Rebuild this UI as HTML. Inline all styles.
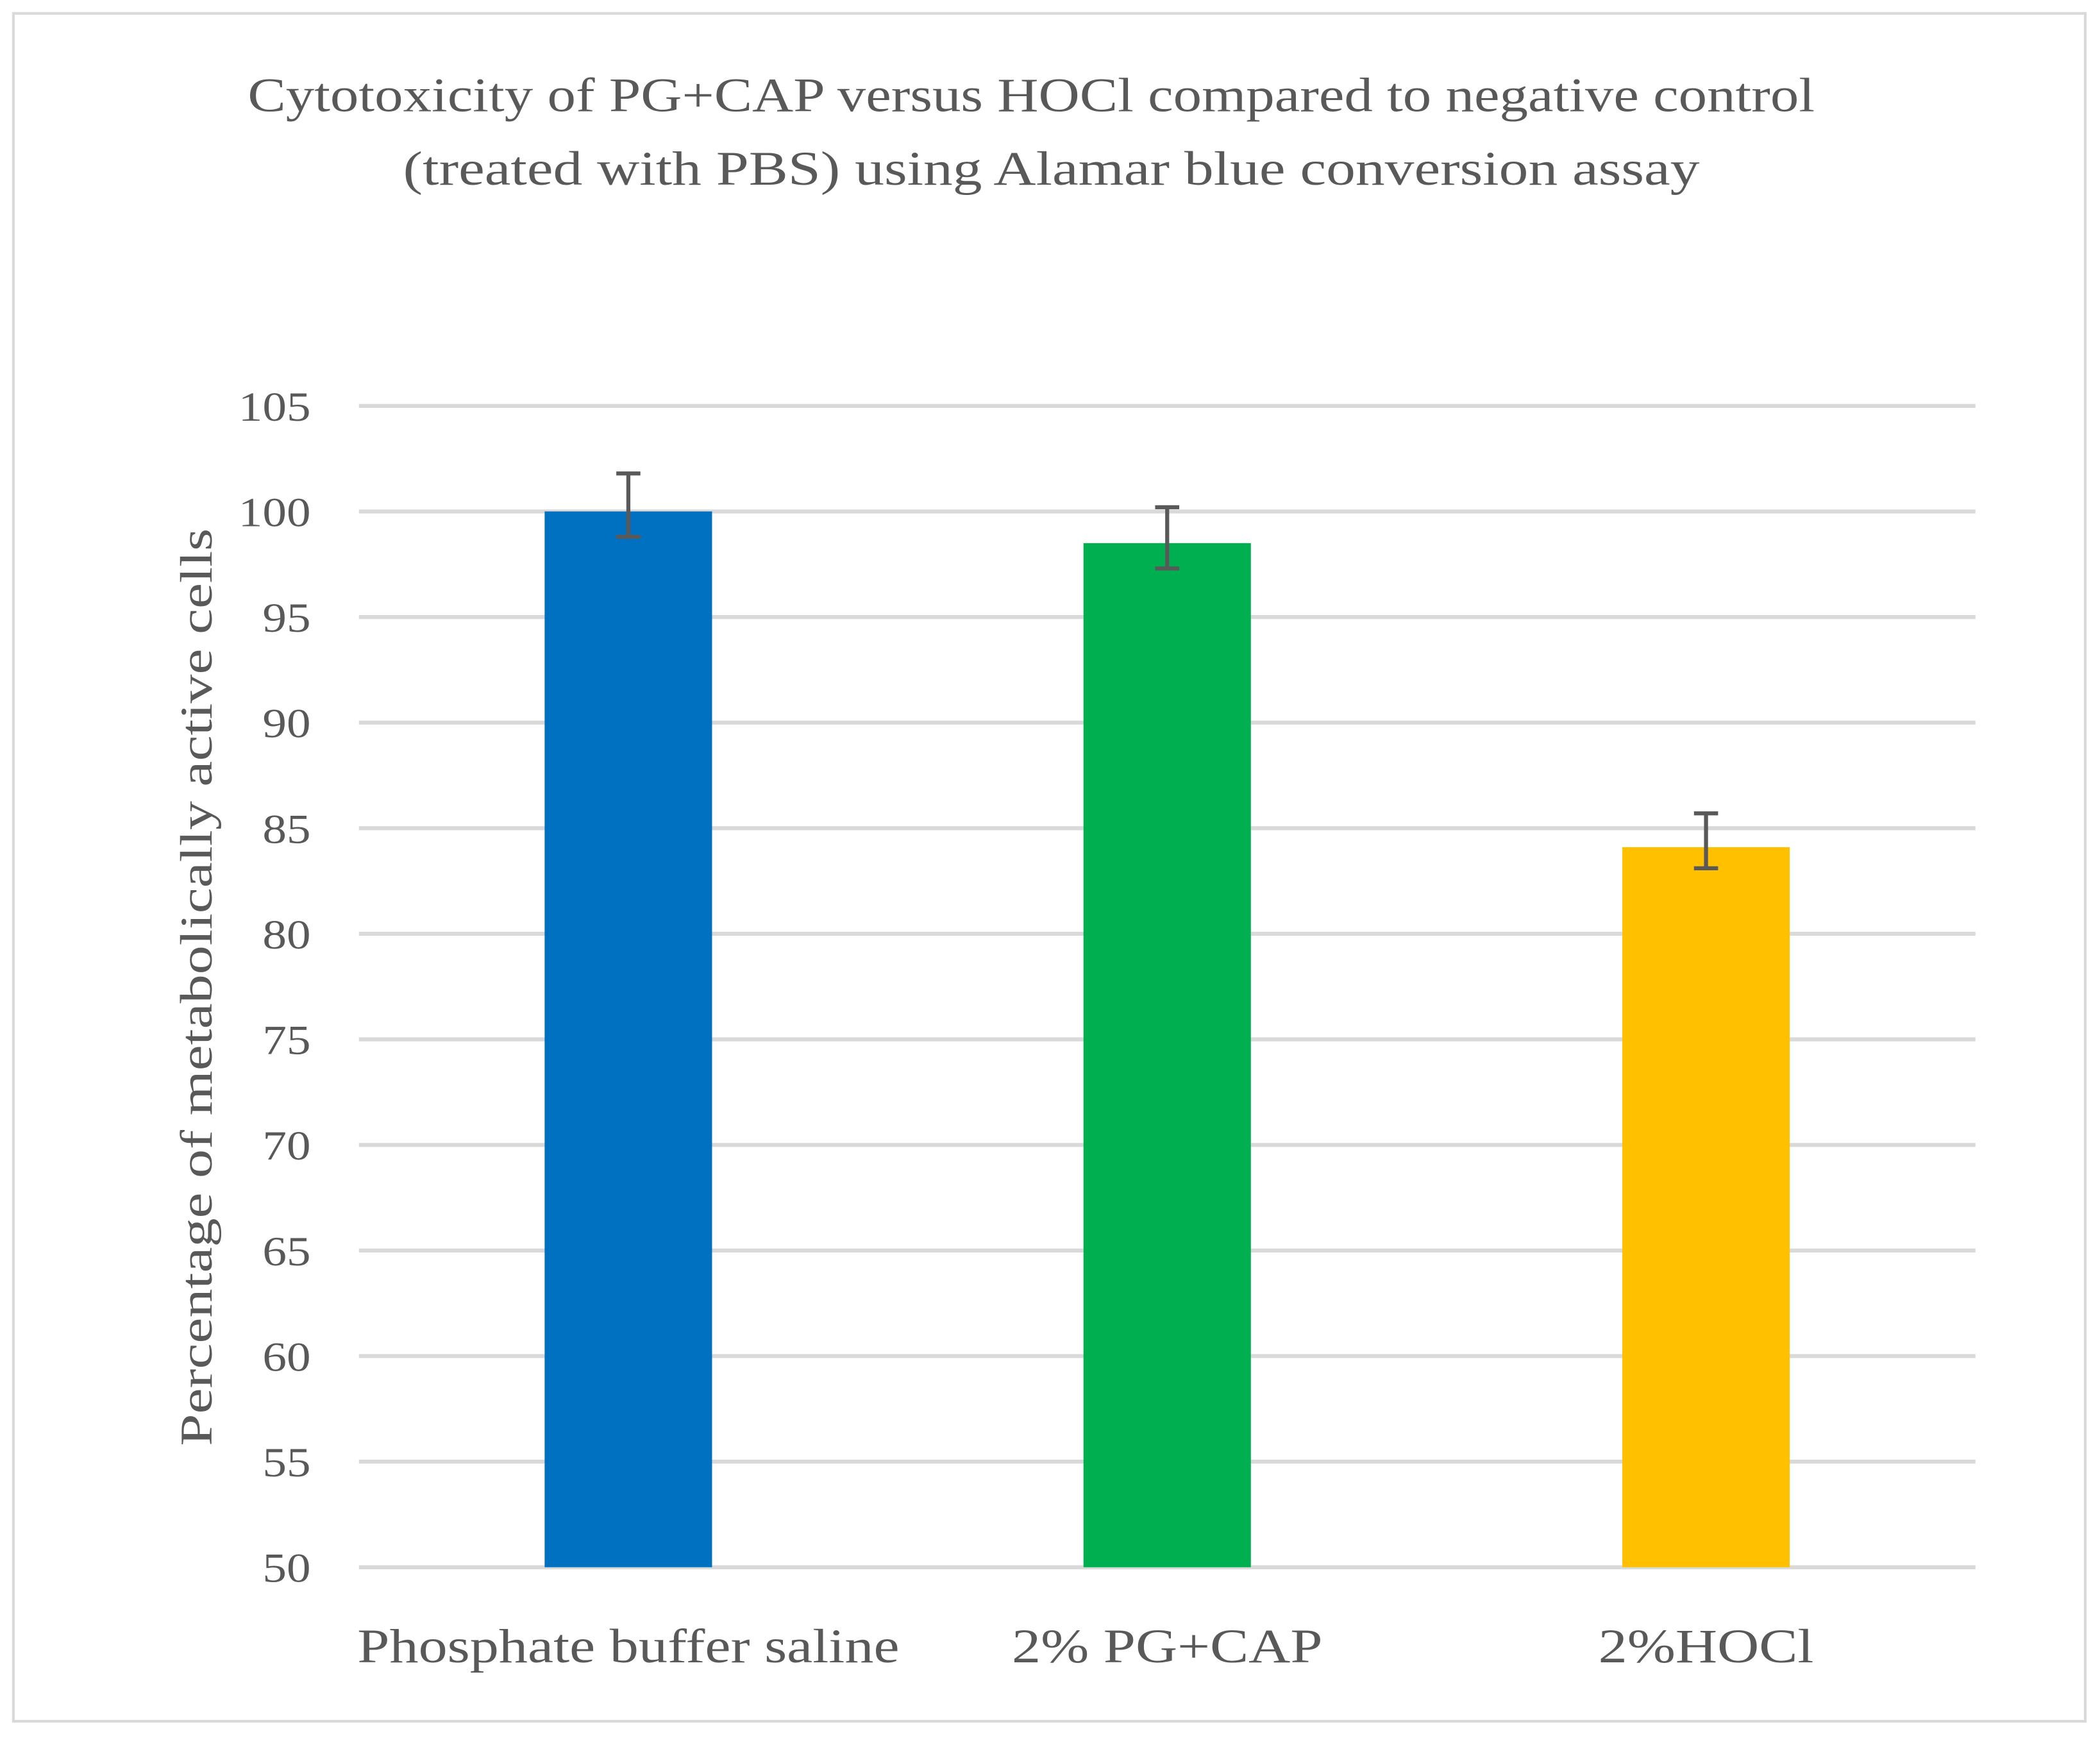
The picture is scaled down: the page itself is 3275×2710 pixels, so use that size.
<!DOCTYPE html>
<html><head><meta charset="utf-8"><style>
html,body{margin:0;padding:0;background:#fff;}
svg{display:block;}
text{font-family:"Liberation Serif",serif;fill:#595959;}
</style></head><body>
<svg id="chart" width="3275" height="2710" viewBox="0 0 1568 1297.5" preserveAspectRatio="none" xmlns="http://www.w3.org/2000/svg">
<rect x="10" y="10" width="1547" height="1275" fill="#fff" stroke="#d9d9d9" stroke-width="2"/>
<text x="770" y="83" font-size="36" text-anchor="middle" textLength="1170" lengthAdjust="spacingAndGlyphs">Cytotoxicity of PG+CAP versus HOCl compared to negative control</text>
<text x="785" y="138" font-size="36" text-anchor="middle" textLength="968" lengthAdjust="spacingAndGlyphs">(treated with PBS) using Alamar blue conversion assay</text>
<text transform="translate(158,737) rotate(-90)" font-size="34" text-anchor="middle" textLength="685" lengthAdjust="spacingAndGlyphs">Percentage of metabolically active cells</text>
<g id="grid"></g>
<g id="yticks"></g>
<g id="bars"></g>
<g id="xlabels"></g>
</svg>
<script>
const categories = ["Phosphate buffer saline", "2% PG+CAP", "2%HOCl"];
const values = [100, 98.5, 84.1];
const errLow = [98.8, 97.3, 83.1];
const errHigh = [101.8, 100.2, 85.7];
const colors = ["#0070c0", "#00b050", "#ffc000"];
const yTicks = [50, 55, 60, 65, 70, 75, 80, 85, 90, 95, 100, 105];

const NS = "http://www.w3.org/2000/svg";
const plotL = 268, plotR = 1475, yMin = 50, yMax = 105, pxMin = 1170, pxMax = 303;
function y(v){ return pxMin - (v - yMin) / (yMax - yMin) * (pxMin - pxMax); }
const bandW = (plotR - plotL) / categories.length;
function xc(i){ return plotL + bandW * (i + 0.5); }
const barW = 125;
function mk(tag, attrs, parent){ const e = document.createElementNS(NS, tag); for (const k in attrs) e.setAttribute(k, attrs[k]); parent.appendChild(e); return e; }

const grid = document.getElementById("grid"), yt = document.getElementById("yticks");
yTicks.forEach(t => {
  const l = mk("line", {x1: plotL, x2: plotR, y1: y(t), y2: y(t), stroke: "#d9d9d9", "stroke-width": 3}, grid);
  
  
  const s = String(t);
  const tx = mk("text", {x: 232, y: y(t) + 11, "font-size": 31, "text-anchor": "end", textLength: s.length * 18, lengthAdjust: "spacingAndGlyphs"}, yt);
  tx.textContent = s;
  
  
});
const bars = document.getElementById("bars"), xl = document.getElementById("xlabels");
const labelScale = 1.34;
categories.forEach((c, i) => {
  const cx = xc(i);
  const r = mk("rect", {x: cx - barW/2, y: y(values[i]), width: barW, height: y(yMin) - y(values[i]), fill: colors[i]}, bars);
  
  
  const g = mk("g", {stroke: "#595959", "stroke-width": 3}, bars);
  
  
  mk("line", {x1: cx, x2: cx, y1: y(errLow[i]), y2: y(errHigh[i])}, g);
  mk("line", {x1: cx - 9, x2: cx + 9, y1: y(errLow[i]), y2: y(errLow[i])}, g);
  mk("line", {x1: cx - 9, x2: cx + 9, y1: y(errHigh[i]), y2: y(errHigh[i])}, g);
  const t = mk("text", {x: cx, y: 1241, "font-size": 36, "text-anchor": "middle"}, xl);
  t.textContent = c;
  
  
  const w = t.getComputedTextLength();
  if (w > 0) { t.setAttribute("textLength", w * 1.2); t.setAttribute("lengthAdjust", "spacingAndGlyphs"); }
});
</script>
</body></html>
